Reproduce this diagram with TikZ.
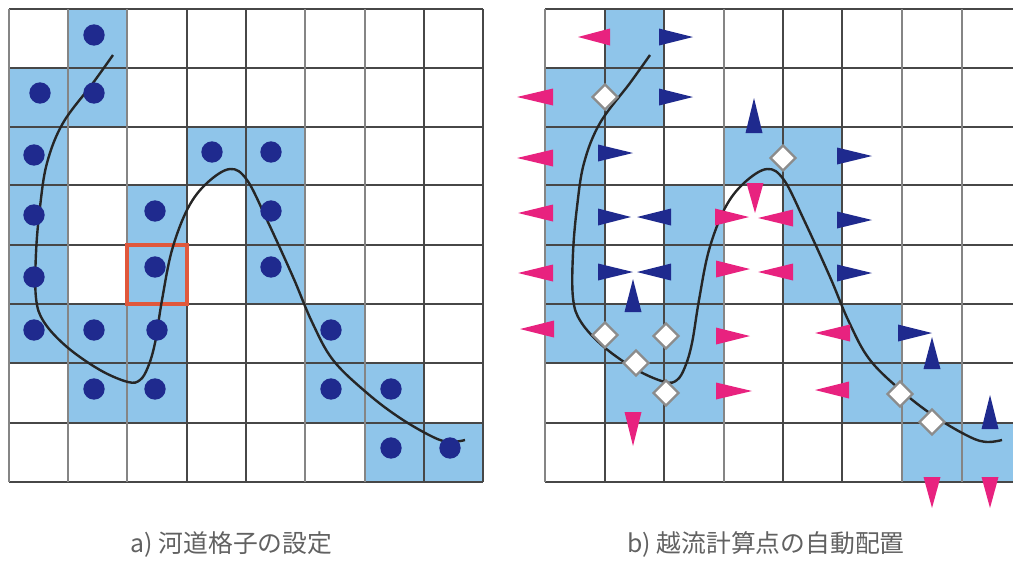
\documentclass[tikz,border=0pt]{standalone}
\usepackage{fontspec}
\newfontfamily\jpfont{Noto Sans CJK JP}
\usepackage{xcolor}
\definecolor{cellblue}{HTML}{8FC5EA}
\definecolor{dotblue}{HTML}{1F2A8E}
\definecolor{flowpink}{HTML}{E8227F}
\definecolor{boxred}{HTML}{E0583C}
\tikzset{gridthin/.style = {draw=black!72, line width=1.5pt}}
\tikzset{gridthick/.style = {draw=black!48, line width=2.1pt}}
\tikzset{river/.style = {draw=black!85, line width=1.8pt}}
\tikzset{checkpt/.style = {fill=white, draw=black!45, line width=1.8pt}}
\tikzset{caption/.style = {font=\jpfont\fontsize{18.6}{20}\selectfont, text=black!62}}
\newcommand{\rivercurve}{plot[smooth, tension=0.6] coordinates {(113,55) (93,83) (63,123) (47,163)
  (40,207) (36,253) (36,298) (44,322) (67,347) (100,370) (128,382) (140,380) (148,367)
  (155,343) (162,300) (172,250) (188,208) (207,183) (230,169) (247,180)
  (267,220) (293,277) (312,322) (333,360) (367,393) (400,418) (433,437)
  (450,442) (465,440)}}
\begin{document}
\begin{tikzpicture}[x=0.75pt, y=-0.75pt]
      \useasboundingbox (0,0) rectangle (1013,561);

      % a) river cells
      \foreach \xa/\xb/\ya/\yb in {68/127/9/68, 9/127/68/127, 9/68/127/304, 187/305/127/185,
          127/187/185/304, 246/305/185/304, 9/187/304/363, 68/187/363/423, 305/365/304/423,
          365/424/363/423, 365/483/423/482}
        \fill[cellblue] (\xa,\ya) rectangle (\xb,\yb);

      % b) river cells
      \foreach \xa/\xb/\ya/\yb in {605/664/9/68, 545/664/68/127, 545/605/127/304, 724/842/127/185,
          664/724/185/304, 783/842/185/304, 545/724/304/363, 605/724/363/423, 842/902/304/423,
          902/962/363/423, 902/1013/423/482}
        \fill[cellblue] (\xa,\ya) rectangle (\xb,\yb);

      % grids
      \foreach \y in {9,68,127,185,245,304,363,423,482} {
        \draw[gridthin] (9,\y) -- (483,\y);
        \draw[gridthin] (545,\y) -- (1013,\y);
      }
      \foreach \x in {187,246,424,483,605,664,783,842}
        \draw[gridthin] (\x,9) -- (\x,482);
      \foreach \x in {9,68,127,305,365,545,724,902,962}
        \draw[gridthick] (\x,9) -- (\x,482);

      \draw[boxred, line width=3pt] (127,245) rectangle (187,304);

      \draw[river] \rivercurve;
      \begin{scope}[xshift=402.75pt]
        \draw[river] \rivercurve;
      \end{scope}

      % cell centres
      \foreach \x/\y in {94/35, 40/93, 94/93, 34/155, 212/152, 271/152, 34/215, 155/211, 271/211,
          34/277, 155/267, 271/267, 34/330, 94/330, 157/330, 331/330, 94/389, 155/389, 331/389,
          391/389, 391/448, 450/448}
        \fill[dotblue] (\x,\y) circle (8pt);

      % left and right pointing marks
      \foreach \b/\t/\y in {610/578/37, 553/517/97, 553/517/158, 553/518/213, 553/518/273, 554/520/329,
          715/749/217, 716/750/269, 716/750/336, 716/752/391, 793/758/218, 793/758/272,
          850/815/333, 849/815/390}
        \fill[flowpink] (\b,\y-8.5) -- (\t,\y) -- (\b,\y+8.5) -- cycle;
      \foreach \b/\t/\y in {659/693/37, 659/693/97, 598/633/153, 837/872/156, 598/631/217, 837/872/220,
          598/633/272, 837/872/273, 671/637/217, 671/637/272, 898/932/333}
        \fill[dotblue] (\b,\y-8.5) -- (\t,\y) -- (\b,\y+8.5) -- cycle;

      % up and down pointing marks
      \foreach \x/\b/\t in {755/183/213, 633/412/446, 932/477/508, 990/477/508}
        \fill[flowpink] (\x-8.5,\b) -- (\x,\t) -- (\x+8.5,\b) -- cycle;
      \foreach \x/\b/\t in {754/133/98, 633/312/279, 932/369/337, 990/429/395}
        \fill[dotblue] (\x-8.5,\b) -- (\x,\t) -- (\x+8.5,\b) -- cycle;

      % overflow points
      \foreach \x/\y in {605/97, 783/158, 605/335, 666/336, 636/363, 666/393, 900/394, 932/422}
        \draw[checkpt] (\x-12.5,\y) -- (\x,\y-12.5) -- (\x+12.5,\y) -- (\x,\y+12.5) -- cycle;

      \node[caption] (capa) at (231.5,544) {a) 河道格子の設定};
      \node[caption] (capb) at (766,544) {b) 越流計算点の自動配置};
    \end{tikzpicture}
\end{document}
